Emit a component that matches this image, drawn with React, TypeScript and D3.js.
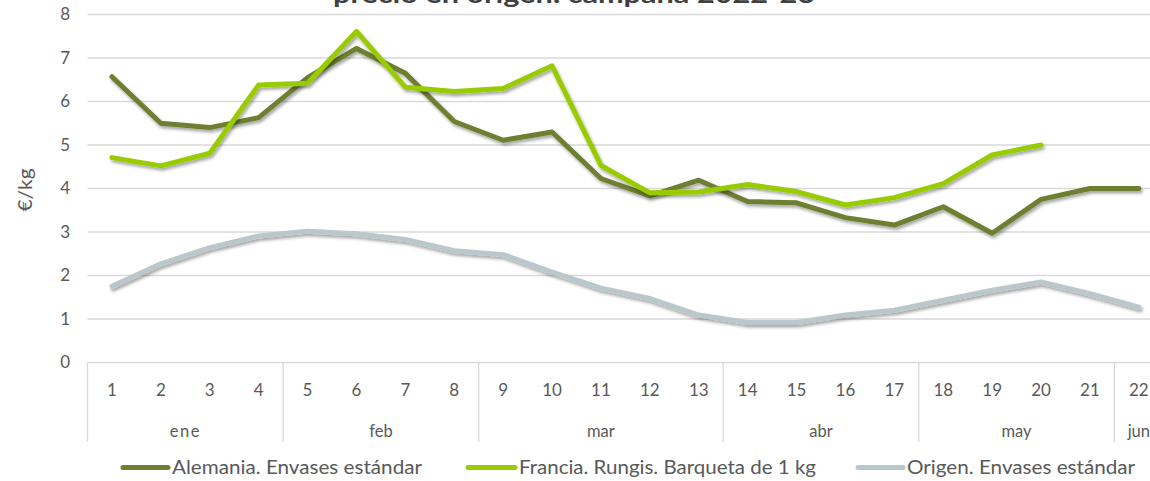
import React from "react";
import * as d3 from "d3";

const weeks = ["1","2","3","4","5","6","7","8","9","10","11","12","13","14","15","16","17","18","19","20","21","22"];
const months = [
  { label: "ene", from: 0, to: 4 },
  { label: "feb", from: 4, to: 8 },
  { label: "mar", from: 8, to: 13 },
  { label: "abr", from: 13, to: 17 },
  { label: "may", from: 17, to: 21 },
  { label: "jun", from: 21, to: 22 },
];
const alemania = [6.57, 5.5, 5.4, 5.63, 6.55, 7.22, 6.65, 5.54, 5.11, 5.3, 4.23, 3.83, 4.19, 3.7, 3.67, 3.33, 3.16, 3.58, 2.97, 3.75, 4.0, 4.0];
const francia: (number | null)[] = [4.71, 4.52, 4.81, 6.38, 6.42, 7.61, 6.33, 6.23, 6.3, 6.82, 4.53, 3.9, 3.92, 4.09, 3.93, 3.62, 3.79, 4.11, 4.77, 5.0, null, null];
const origen = [1.75, 2.27, 2.64, 2.91, 3.02, 2.96, 2.83, 2.57, 2.48, 2.08, 1.71, 1.47, 1.09, 0.92, 0.92, 1.09, 1.2, 1.43, 1.66, 1.85, 1.58, 1.27];
const yTicks = [0, 1, 2, 3, 4, 5, 6, 7, 8];
const seriesNames = ["Alemania. Envases estándar", "Francia. Rungis. Barqueta de 1 kg", "Origen. Envases estándar"];
const title = "precio en origen. campaña 2022-23";
const yLabel = "€/kg";

const colors = ["#6E7F30", "#99CC00", "#B8C8CC"];
const FONT = "Lato, 'Open Sans', sans-serif";
const TXT = "#595959";

export default function App() {
  const W = 1150, H = 481;
  const left = 87.5, right = 1163.3, top = 14.5, bottom = 362.5;
  const x = d3.scaleBand<string>().domain(weeks).range([left, right]);
  const y = d3.scaleLinear().domain([0, 8]).range([bottom, top]);
  const cx = (i: number) => (x(weeks[i]) as number) + x.bandwidth() / 2;
  const line = d3
    .line<number | null>()
    .defined((d) => d !== null)
    .x((_, i) => cx(i))
    .y((d) => y(d as number));
  const series = [alemania, francia, origen];
  const legendItems = [
    { lx: 123, tx: 172, len: 250 },
    { lx: 468, tx: 519, len: 297 },
    { lx: 858, tx: 907, len: 228 },
  ];
  return (
    <svg width={W} height={H} style={{ position: "absolute", left: 0, top: 0, background: "#fff" }} fontFamily={FONT}>
      <defs>
        <filter id="sh" x="-5%" y="-20%" width="110%" height="140%">
          <feDropShadow dx="1.5" dy="2.5" stdDeviation="1.4" floodColor="#000" floodOpacity="0.35" />
        </filter>
      </defs>
      <text x={574} y={3} textAnchor="middle" fontWeight="bold" fontSize={24} fill="#404040" textLength={482} lengthAdjust="spacingAndGlyphs">
        {title}
      </text>
      {yTicks.map((t) => (
        <g key={t}>
          <line x1={left} x2={W} y1={y(t)} y2={y(t)} stroke="#D9D9D9" strokeWidth={1.3} />
          <text x={70} y={y(t)} dy="0.35em" textAnchor="end" fontSize={17} fill={TXT}>
            {t}
          </text>
        </g>
      ))}
      <text transform={`translate(32,190) rotate(-90)`} textAnchor="middle" fontSize={20} fill={TXT} textLength={43} lengthAdjust="spacingAndGlyphs">
        {yLabel}
      </text>
      {months.map((m) => {
        const x0 = left + m.from * x.step();
        const x1 = left + m.to * x.step();
        return (
          <g key={m.label}>
            <line x1={x0} x2={x0} y1={bottom} y2={442} stroke="#D9D9D9" strokeWidth={1.3} />
            <text x={(x0 + x1) / 2} y={431} dy="0.35em" textAnchor="middle" fontSize={16.5} fill={TXT} letterSpacing={m.label === "ene" ? 1.5 : 0}>
              {m.label}
            </text>
          </g>
        );
      })}
      {weeks.map((w, i) => (
        <text key={w} x={cx(i)} y={390} dy="0.35em" textAnchor="middle" fontSize={17} fill={TXT}>
          {w}
        </text>
      ))}
      {series.map((s, k) => (
        <path key={k} d={line(s) || ""} fill="none" stroke={colors[k]} strokeWidth={5} strokeLinejoin="round" strokeLinecap="round" filter="url(#sh)" />
      ))}
      {seriesNames.map((n, k) => (
        <g key={n}>
          <line x1={legendItems[k].lx} x2={legendItems[k].tx - 4} y1={467.5} y2={467.5} stroke={colors[k]} strokeWidth={5} strokeLinecap="round" />
          <text x={legendItems[k].tx} y={467.5} dy="0.35em" fontSize={18.5} fill={TXT} textLength={legendItems[k].len} lengthAdjust="spacingAndGlyphs">
            {n}
          </text>
        </g>
      ))}
    </svg>
  );
}
